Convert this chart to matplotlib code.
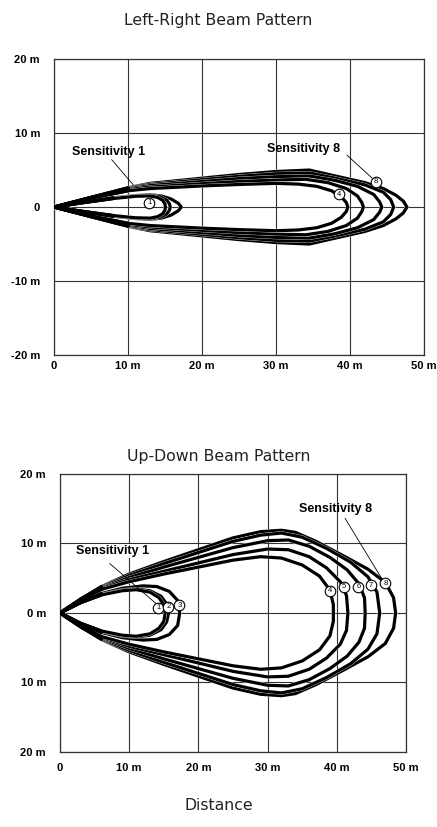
import matplotlib
matplotlib.use('Agg')
import matplotlib.pyplot as plt
import matplotlib.patheffects as pe

# ---------------------------------------------------------------------------------------------------------------------
# Beam outlines: upper half only (x m, y m), the lower half is the mirror

lr_sens1 = [(0, 0), (4, 0.6), (8, 1.15), (11, 1.45), (13, 1.5), (14, 1.3), (14.7, 0.9), (15, 0.4), (15.05, 0)]
lr_sens2 = [(0, 0), (4, 0.62), (8, 1.2), (11, 1.5), (13, 1.6), (14.3, 1.4), (15.2, 0.95), (15.6, 0.45), (15.7, 0)]
lr_sens3 = [(0, 0), (4, 0.65), (8, 1.25), (11, 1.55), (13, 1.65), (14.5, 1.5), (15.8, 1.1), (16.8, 0.5), (17.2, 0)]
lr_sens4 = [(0, 0), (5, 1.2), (10, 2.2), (13, 2.5), (20, 2.85), (25, 3.05), (30, 3.2), (33, 3.1), (35.5, 2.8),
            (37.5, 2.2), (38.8, 1.4), (39.5, 0.6), (39.7, 0)]
lr_sens5 = [(0, 0), (5, 1.25), (10, 2.35), (13, 2.7), (20, 3.15), (25, 3.45), (30, 3.65), (34, 3.75), (37, 3.3),
            (39.5, 2.5), (41, 1.5), (41.6, 0.6), (41.8, 0)]
lr_sens6 = [(0, 0), (5, 1.27), (10, 2.45), (13, 2.9), (20, 3.45), (25, 3.85), (30, 4.1), (34.5, 4.2), (38, 3.6),
            (41, 2.8), (43.2, 1.7), (44.0, 0.7), (44.3, 0)]
lr_sens7 = [(0, 0), (5, 1.3), (10, 2.55), (13, 3.05), (20, 3.7), (25, 4.15), (30, 4.5), (34.5, 4.6), (38, 3.9),
            (42, 3.0), (44.5, 2.0), (45.5, 1.0), (45.9, 0)]
lr_sens8 = [(0, 0), (5, 1.3), (10, 2.6), (13, 3.2), (20, 3.9), (25, 4.4), (30, 4.8), (34.5, 5.0), (38, 4.2),
            (42, 3.3), (44.5, 2.5), (46.2, 1.6), (47.2, 0.8), (47.7, 0)]

ud_sens1 = [(0, 0), (3, 1.5), (6, 2.6), (9, 3.2), (11, 3.35), (13, 3.0), (14.3, 2.2), (15, 1.2), (15.2, 0)]
ud_sens2 = [(0, 0), (3, 1.5), (6, 2.65), (9, 3.3), (11, 3.45), (13, 3.2), (14.6, 2.4), (15.4, 1.3), (15.7, 0)]
ud_sens3 = [(0, 0), (3, 1.55), (6, 2.8), (9, 3.55), (12, 3.9), (14, 3.8), (15.8, 3.1), (17, 1.8), (17.3, 0)]
ud_sens4 = [(0, 0), (3, 1.9), (6, 3.4), (10, 4.5), (15, 5.6), (20, 6.6), (25, 7.6), (29, 8.1), (32, 7.9),
            (35, 6.9), (37.5, 5.3), (39, 3.3), (39.5, 1.2), (39.5, 0)]
ud_sens5 = [(0, 0), (3, 1.9), (6, 3.5), (10, 4.8), (15, 6.0), (20, 7.2), (25, 8.4), (30, 9.2), (33, 9.1),
            (36, 8.1), (38.5, 6.5), (40.5, 4.5), (41.4, 2.5), (41.6, 0)]
ud_sens6 = [(0, 0), (3, 1.95), (6, 3.6), (10, 5.1), (15, 6.6), (20, 8.0), (25, 9.4), (30, 10.4), (33, 10.5),
            (36, 9.6), (39, 8.0), (41.5, 6.2), (43.2, 4.2), (44, 2.2), (44.1, 0)]
ud_sens7 = [(0, 0), (3, 2.0), (6, 3.7), (10, 5.4), (15, 7.1), (20, 8.7), (25, 10.3), (29, 11.2), (32, 11.5),
            (35, 10.9), (38.5, 9.3), (42, 7.3), (44.5, 5.2), (45.8, 3.0), (46.2, 0)]
ud_sens8 = [(0, 0), (3, 2.0), (6, 3.8), (10, 5.6), (15, 7.4), (20, 9.1), (25, 10.8), (29, 11.7), (32, 11.9),
            (34, 11.6), (37, 10.3), (41, 8.2), (44.5, 6.3), (47, 4.4), (48.2, 2.2), (48.5, 0)]

# circled sensitivity numbers (label, x, y)
lr_marks = [('1', 12.9, 0.6), ('4', 38.5, 1.7), ('8', 43.5, 3.4)]
ud_marks = [('1', 14.2, 0.76), ('2', 15.65, 0.86), ('3', 17.25, 1.1),
            ('4', 39.0, 3.2), ('5', 41.0, 3.8), ('6', 43.1, 3.8), ('7', 44.9, 4.0), ('8', 47.0, 4.3)]

x_ticks = [0, 10, 20, 30, 40, 50]
x_labels = ['0', '10 m', '20 m', '30 m', '40 m', '50 m']
y_ticks = [-20, -10, 0, 10, 20]
lr_y_labels = ['-20 m', '-10 m', '0', '10 m', '20 m']
ud_y_labels = ['20 m', '10 m', '0 m', '10 m', '20 m']

lr_curves = [lr_sens8, lr_sens7, lr_sens6, lr_sens5, lr_sens4, lr_sens3, lr_sens2, lr_sens1]
ud_curves = [ud_sens8, ud_sens7, ud_sens6, ud_sens5, ud_sens4, ud_sens3, ud_sens2, ud_sens1]

tick_font = dict(family='Liberation Sans', fontweight='bold', fontsize=8)
note_font = dict(family='Liberation Sans', fontweight='bold', fontsize=9)
title_font = dict(family='DejaVu Sans', fontsize=11.3, color='#222222')


def draw_panel(ax, curves, marks, y_labels, xpad, n_solid):
    ax.set_xlim(0, 50)
    ax.set_ylim(-20, 20)
    ax.set_xticks(x_ticks)
    ax.set_yticks(y_ticks)
    ax.set_xticklabels(x_labels, **tick_font)
    ax.set_yticklabels(y_labels, **tick_font)
    ax.tick_params(length=0)
    ax.tick_params(axis='y', pad=10)
    ax.tick_params(axis='x', pad=xpad)
    ax.grid(True, color='#333333', linewidth=0.8)
    ax.set_axisbelow(True)
    for s in ax.spines.values():
        s.set_color('#333333')
        s.set_linewidth(0.9)

    for pts in curves:
        xs = [p[0] for p in pts] + [p[0] for p in reversed(pts)]
        ys = [p[1] for p in pts] + [-p[1] for p in reversed(pts)]
        ax.plot(xs, ys, color='black', linewidth=2.3, solid_joinstyle='round', solid_capstyle='round',
                path_effects=[pe.Stroke(linewidth=2.7, foreground='white'), pe.Normal()], zorder=3)

    # near the sensor the lines merge into one solid band
    for pts in curves:
        head = pts[:n_solid]
        ax.plot([p[0] for p in head], [p[1] for p in head], color='black', linewidth=2.3,
                solid_capstyle='round', zorder=3.5)
        ax.plot([p[0] for p in head], [-p[1] for p in head], color='black', linewidth=2.3,
                solid_capstyle='round', zorder=3.5)

    for lab, mx, my in marks:
        ax.scatter([mx], [my], s=58, facecolor='white', edgecolor='black', linewidth=0.8, zorder=5)
        ax.text(mx, my, lab, fontsize=5.5, ha='center', va='center', family='Liberation Sans', zorder=6)


fig = plt.figure(figsize=(4.37, 8.27), dpi=100)

# ---------------------------------------------------------------------------------------------------------------------
# Left-right pattern

ax1 = fig.add_axes([0.1236, 0.5707, 0.8467, 0.3579])
draw_panel(ax1, lr_curves, lr_marks, lr_y_labels, 4, 3)
ax1.text(7.4, 7.4, 'Sensitivity 1', ha='center', va='center', zorder=6, **note_font)
ax1.plot([7.8, 10.7], [6.4, 3.0], color='black', linewidth=0.6, zorder=4)
ax1.text(33.7, 7.9, 'Sensitivity 8', ha='center', va='center', zorder=6, **note_font)
ax1.plot([39.6, 43.0], [7.0, 3.9], color='black', linewidth=0.6, zorder=4)
fig.text(0.5, 1 - 20 / 827, 'Left-Right Beam Pattern', ha='center', va='center', **title_font)

# ---------------------------------------------------------------------------------------------------------------------
# Up-down pattern

ax2 = fig.add_axes([0.1373, 0.0907, 0.7918, 0.3362])
draw_panel(ax2, ud_curves, ud_marks, ud_y_labels, 8, 3)
ax2.text(7.6, 8.9, 'Sensitivity 1', ha='center', va='center', zorder=6,
         bbox=dict(facecolor='white', edgecolor='none', pad=0.5), **note_font)
ax2.plot([7.2, 14.0], [7.1, 1.25], color='black', linewidth=0.6, zorder=4)
ax2.text(39.8, 15.0, 'Sensitivity 8', ha='center', va='center', zorder=6, **note_font)
ax2.plot([41.2, 46.7], [13.6, 4.6], color='black', linewidth=0.6, zorder=4)
fig.text(0.5, 1 - 457 / 827, 'Up-Down Beam Pattern', ha='center', va='center', **title_font)
fig.text(0.5, 1 - 805 / 827, 'Distance', ha='center', va='center', **title_font)

plt.savefig('out.png', dpi=100)
